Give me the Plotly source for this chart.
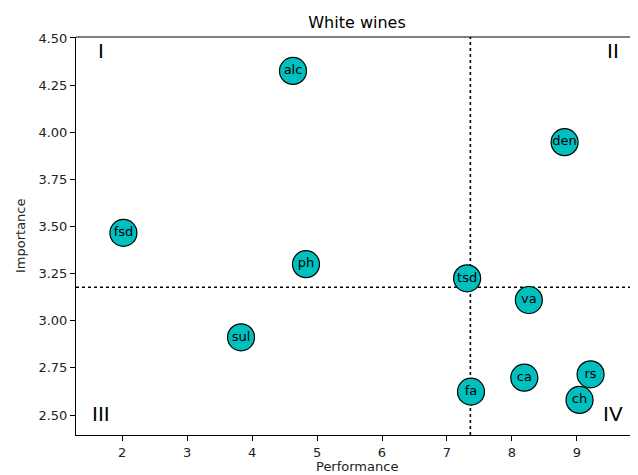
import plotly.graph_objects as go

# Data
labels = ["alc", "den", "fsd", "ph", "sul", "tsd", "va", "ca", "rs", "ch", "fa"]
performance = [4.63, 8.81, 2.02, 4.83, 3.83, 7.31, 8.26, 8.19, 9.21, 9.04, 7.37]
importance = [4.325, 3.947, 3.466, 3.30, 2.912, 3.225, 3.110, 2.698, 2.716, 2.580, 2.624]
x_cut = 7.36
y_cut = 3.178
quadrant_names = ["I", "II", "III", "IV"]
quadrant_x = [1.68, 9.55, 1.68, 9.55]
quadrant_y = [4.43, 4.43, 2.505, 2.505]
x_ticks = [2, 3, 4, 5, 6, 7, 8, 9]
y_ticks = [2.50, 2.75, 3.00, 3.25, 3.50, 3.75, 4.00, 4.25, 4.50]

FONT = "DejaVu Sans"
W, H = 630, 467  # page body adds an 8px offset
L, T, B = 68, 29, 40

fig = go.Figure()
fig.add_trace(go.Scatter(
    x=performance, y=importance, mode="markers+text", text=labels,
    textposition="middle center",
    textfont=dict(family=FONT, size=13, color="black"),
    marker=dict(size=27, color="#00BFBF", line=dict(color="black", width=1.2)),
    showlegend=False, cliponaxis=False,
))

# quadrant dividers
fig.add_shape(type="line", xref="x", yref="paper", x0=x_cut, x1=x_cut, y0=0, y1=1,
              line=dict(color="black", width=1.6, dash="dot"), layer="below")
fig.add_shape(type="line", xref="paper", yref="y", x0=0, x1=1, y0=y_cut, y1=y_cut,
              line=dict(color="black", width=1.6, dash="dot"), layer="below")
# top spine
fig.add_shape(type="line", xref="paper", yref="paper", x0=0, x1=1, y0=1, y1=1,
              line=dict(color="black", width=1))

for name, qx, qy in zip(quadrant_names, quadrant_x, quadrant_y):
    fig.add_annotation(x=qx, y=qy, text=name, showarrow=False,
                       font=dict(family=FONT, size=20, color="black"))

# axis titles
fig.add_annotation(x=0.5, y=0, xref="paper", yref="paper", text="Performance",
                   showarrow=False, xanchor="center", yanchor="top", yshift=-22,
                   font=dict(family=FONT, size=13, color="#222222"))
fig.add_annotation(x=0, y=0.5, xref="paper", yref="paper", text="Importance",
                   showarrow=False, textangle=-90, xanchor="center", yanchor="middle",
                   xshift=-(L - 12), font=dict(family=FONT, size=13, color="#222222"))

fig.update_layout(
    width=W, height=H,
    margin=dict(l=L, r=0, t=T, b=B, pad=0),
    paper_bgcolor="white", plot_bgcolor="white",
    font=dict(family=FONT, size=13, color="#222222"),
    title=dict(text="White wines", x=0.5, xref="paper", y=1 - 14 / H, yref="container",
               yanchor="middle", automargin=False,
               font=dict(family=FONT, size=16, color="black")),
    xaxis=dict(range=[1.29, 9.94], tickvals=x_ticks, showgrid=False, zeroline=False,
               automargin=False,
               showline=True, linecolor="black", linewidth=1, ticks="outside",
               ticklen=5, tickcolor="black", tickfont=dict(size=13)),
    yaxis=dict(range=[2.394, 4.505], tickvals=y_ticks, tickformat=".2f", showgrid=False,
               automargin=False,
               zeroline=False, showline=True, linecolor="black", linewidth=1,
               ticks="outside", ticklen=5, tickcolor="black", tickfont=dict(size=13)),
)

fig.write_html("out.html")
